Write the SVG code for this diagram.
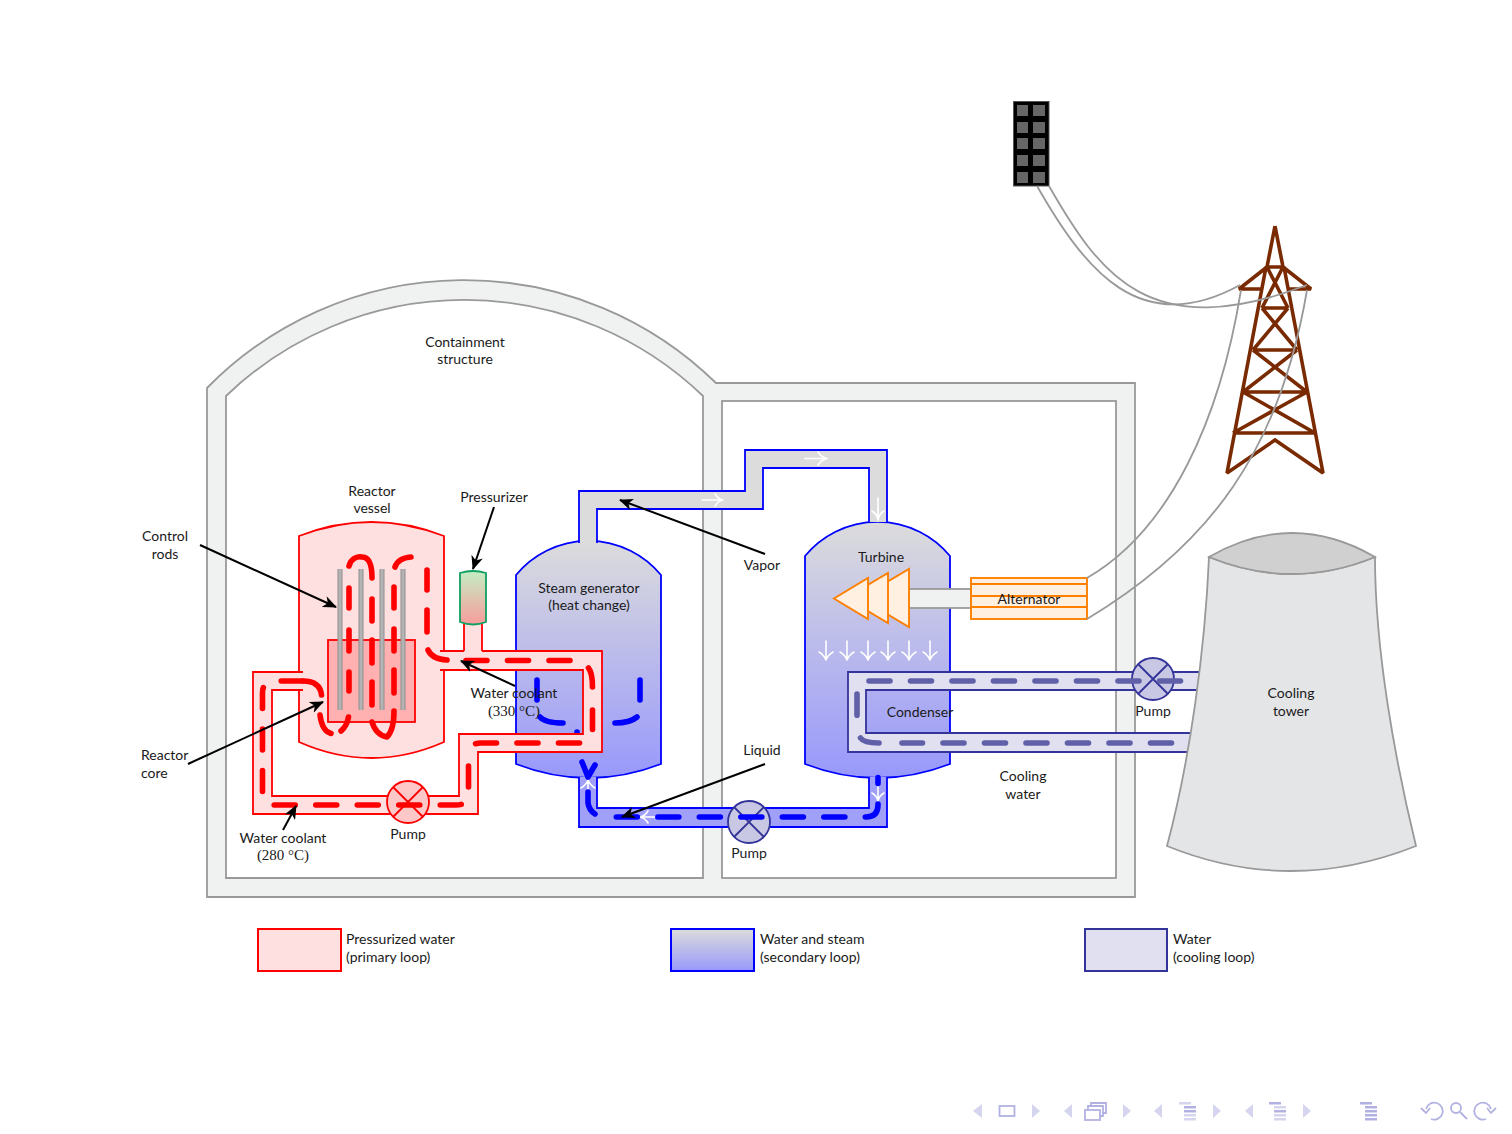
<svg xmlns="http://www.w3.org/2000/svg" width="1512" height="1134" viewBox="0 0 1512 1134">
<style>
text{font-family:"Lato","Open Sans","Liberation Sans",sans-serif;font-size:14px;fill:#1a1a1a;text-anchor:middle}
text.l{text-anchor:start}
text.m{font-family:"Liberation Serif",serif;font-size:15px}
.wall{fill:#f0f2f1;stroke:#999;stroke-width:1.8}
.wire{fill:none;stroke:#999;stroke-width:1.8}
.pf{fill:#ffe0e0;stroke:none}
.ps{fill:none;stroke:#f00;stroke-width:1.8}
.bs{fill:none;stroke:#00f;stroke-width:1.8}
.cf{fill:#e0e0f0;stroke:none}
.cs{fill:none;stroke:#333399;stroke-width:1.8}
.dash{fill:none;stroke-width:5.6;stroke-linecap:round;stroke-linejoin:round;stroke-dasharray:21 20.500}
.seg{fill:none;stroke-width:5.6;stroke-linecap:round;stroke-linejoin:round}
.wa{fill:none;stroke:#fff;stroke-width:1.6;stroke-linecap:round;stroke-linejoin:round}
.rod{fill:url(#rodg)}
.bk{fill:none;stroke:#000;stroke-width:2;marker-end:url(#ah)}
.tw{fill:none;stroke:#7a2a00;stroke-width:3.6;stroke-linejoin:miter;stroke-miterlimit:2.500}
.orange{fill:#fff0e2;stroke:#ff8000;stroke-width:1.9}
.win{fill:#666}
.nt{fill:#d5d5f0}
.nl{fill:none;stroke:#b2b2e2;stroke-width:1.8}
.nb{fill:#b2b2e2}
.nb2{fill:#d5d5f0}
</style>
<defs>
<marker id="ah" viewBox="0 0 14 12" refX="13" refY="6" markerWidth="14" markerHeight="12" markerUnits="userSpaceOnUse" orient="auto">
<path d="M0,0 L14,6 L0,12 L4,6 Z" fill="#000"/>
</marker>
<linearGradient id="sg" x1="0" y1="0" x2="0" y2="1"><stop offset="0" stop-color="#dcdcdc"/><stop offset="1" stop-color="#9898fc"/></linearGradient>
<linearGradient id="pz" x1="0" y1="0" x2="0" y2="1"><stop offset="0" stop-color="#c4eec4"/><stop offset="1" stop-color="#f89c9c"/></linearGradient>
<linearGradient id="rodg" x1="0" y1="0" x2="1" y2="0"><stop offset="0" stop-color="#8e8e8e"/><stop offset="0.5" stop-color="#bdbdbd"/><stop offset="1" stop-color="#8e8e8e"/></linearGradient>
</defs>

<g id="containment">
<path class="wall" d="M207,897 V388 A360,360 0 0 1 716,383 H1135 V897 Z"/>
<path d="M226,878 V396 A344,344 0 0 1 703,396 V878 Z" fill="#fff" stroke="#999" stroke-width="1.8"/>
<rect x="722" y="401" width="394" height="477" fill="#fff" stroke="#999" stroke-width="1.8"/>
</g>

<g id="building">
<rect x="1013.500" y="101.500" width="35.500" height="84.500" fill="#000" stroke="#555" stroke-width="1"/>
<rect class="win" x="1017" y="105" width="11" height="11"/><rect class="win" x="1033" y="105" width="12" height="11"/>
<rect class="win" x="1017" y="122" width="11" height="11"/><rect class="win" x="1033" y="122" width="12" height="11"/>
<rect class="win" x="1017" y="138" width="11" height="11"/><rect class="win" x="1033" y="138" width="12" height="11"/>
<rect class="win" x="1017" y="155" width="11" height="11"/><rect class="win" x="1033" y="155" width="12" height="11"/>
<rect class="win" x="1017" y="172" width="11" height="11"/><rect class="win" x="1033" y="172" width="12" height="11"/>
</g>

<g id="pylon">
<path class="tw" d="M1275,226 L1267,267 M1275,226 L1283,267 M1267,267 H1283 M1267,267 L1239,289 H1262 M1283,267 L1311,289 H1288 M1266,267 L1227,473 L1275,440 L1323,473 L1284,267 M1267,267 L1288,308 M1283,267 L1262,308 M1262,308 H1288 M1262,308 L1297,350 M1288,308 L1253,350 M1253,350 H1297 M1253,350 L1307,392 M1297,350 L1243,392 M1243,392 H1307 M1243,392 L1315,433 M1307,392 L1233,433 M1233,433 H1315"/>
</g>

<g id="steam-generator">
<path d="M516,575 A94,94 0 0 1 661,575 V764 Q588.500,792 516,764 Z" fill="url(#sg)" stroke="#00f" stroke-width="1.8"/>
</g>
<g id="turbine-vessel">
<path d="M805,556 A94,94 0 0 1 950,556 V764 Q877.500,792 805,764 Z" fill="url(#sg)" stroke="#00f" stroke-width="1.8"/>
</g>

<g id="connectors">
<g id="secondary-loop">
<path d="M579,543 V491 H745 V450 H887 V522 H869 V468 H763 V509 H597 V543 Z" fill="#dcdcdc"/>
<path class="bs" d="M579,543 V491 H745 V450 H887 V522 M869,522 V468 H763 V509 H597 V543"/>
<path d="M579,777 V827 H887 V777 H869 V808 H597 V777 Z" fill="#a0a0f8"/>
<path class="bs" d="M579,777 V827 H887 V777 M869,777 V808 H597 V777"/>
<path class="wa" d="M805,458.500 H826 M818,452 Q821,457 827,458.500 Q821,460 818,465 M702,500 H722 M715,494 Q718,499 723,500 Q718,501 715,506 M878,498 V519 M872,511 Q877,514 878,520 Q879,514 884,511 M588,781 V796 M581,788 Q586,785 588,780 Q590,785 595,788 M878,782 V800 M872,793 Q877,796 878,801 Q879,796 884,793 M641,817 H662 M648,811 Q645,816 640,817 Q645,818 648,823"/>
<path class="seg" stroke="#00f" d="M537,680 V700 M540,717 Q545,723 563,723 M577,732 h.1 M640,680 V700 M637,717 Q630,723 615,723 M582,762 L588,777 L595,765 M588,792 V803 Q589,810 595,814"/>
</g>
<g id="cooling-loop">
<path class="cf" d="M1200,672 H848 V752 H1190 V733 H866 V690 H1200 Z"/>
<path class="cs" d="M1200,672 H848 V752 H1190 M1190,733 H866 V690 H1200"/>
</g>
<g id="primary-loop">
<path class="pf" d="M303,672 H253 V814 H478 V752 H602 V651 H440 V670 H583 V734 H459 V796 H272 V690 H303 Z"/>
<path class="ps" d="M303,672 H253 V814 H478 V752 H602 V651 H440 M440,670 H583 V734 H459 V796 H272 V690 H303"/>
</g>
</g>

<g id="reactor-vessel">
<path d="M299,536 Q371.500,508 444,536 V742 Q371.500,774 299,742 Z" fill="#ffe0e0" stroke="#f00" stroke-width="1.8"/>
<path class="pf" d="M296,673 H303 V689 H296 Z M440,652 H448 V669 H440 Z"/>
<path class="ps" d="M296,672 H303 M296,690 H303 M440,651 H448 M440,670 H448"/>
<rect x="328" y="640" width="87" height="82" fill="#ffb0b0" stroke="#f00" stroke-width="1.8"/>
</g>
<g id="control-rods">
<rect class="rod" x="337.500" y="569" width="5" height="141"/>
<rect class="rod" x="358.500" y="569" width="5" height="141"/>
<rect class="rod" x="379.500" y="569" width="5" height="141"/>
<rect class="rod" x="400.500" y="569" width="5" height="141"/>
</g>
<g id="pressurizer">
<rect x="464" y="623" width="18" height="34" class="pf"/>
<path class="ps" d="M464,623 V651 M482,623 V651"/>
<path d="M460,573 Q473,569 486,573 V622 Q473,627 460,622 Z" fill="url(#pz)" stroke="#10a060" stroke-width="1.8"/>
</g>

<g id="pumps">
<g id="pump-primary"><circle cx="408" cy="802" r="21" fill="#ffc8c8" stroke="#f00" stroke-width="1.8"/><path class="ps" d="M393,787 L423,817 M423,787 L393,817"/></g>
<g id="pump-secondary"><circle cx="749" cy="822" r="21" fill="#c8c8e4" stroke="#333399" stroke-width="1.8"/><path class="cs" d="M734,807 L764,837 M764,807 L734,837"/></g>
<g id="pump-cooling"><circle cx="1153" cy="679" r="21" fill="#c8c8e4" stroke="#333399" stroke-width="1.8"/><path class="cs" d="M1138,664 L1168,694 M1168,664 L1138,694"/></g>
</g>

<g id="flows">
<path class="dash" stroke="#f00" d="M466,660.500 H575"/>
<path class="seg" stroke="#f00" d="M588.500,668 Q592.500,673 592.500,687 M592.500,710 V729.500"/>
<path class="dash" stroke="#f00" d="M579.500,743 H481 Q468.500,743 468.500,755"/>
<path class="dash" stroke="#f00" d="M468.500,766 V793 Q468.500,805 456,805 H275 Q262.500,805 262.500,793 V693 Q262.500,681 275,681 H303"/>
<path class="seg" stroke="#f00" d="M303,681 Q320,681 321.500,695 M320,715 Q322,731 331,733.500 M341,731 Q347,726 348.500,717 M349,588 V608 M349,630 V651 M349,672 V691 M349,566 C351,558 358,556 362,557 C369,557 372,566 372,578 M372,599 V621 M372,640 V663 M372,682 V705 M372,722 Q376,735 387,737 Q394,730 394,711 M394,587 V608 M394,629 V651 M394,670 V693 M395,567 Q398,558 411,557 M427,570 V590 M427,610 V632 M428,650 Q432,659 447,660"/>
<path class="dash" stroke="#00f" stroke-dashoffset="15" d="M878,777.500 V805 Q878,817 866,817 H612"/>
<path class="dash" stroke="#6060a8" d="M1180.500,681 H869 Q857,681 857,693 V719"/>
<path class="seg" stroke="#6060a8" d="M860.500,738 Q864,743 879,743"/>
<path class="dash" stroke="#6060a8" d="M1171.500,743 H902"/>
<path class="wa" d="M826,641 V659 M819,652 Q824,655 826,660 Q828,655 833,652 M847,641 V659 M840,652 Q845,655 847,660 Q849,655 854,652 M868,641 V659 M861,652 Q866,655 868,660 Q870,655 875,652 M888,641 V659 M881,652 Q886,655 888,660 Q890,655 895,652 M909,641 V659 M902,652 Q907,655 909,660 Q911,655 916,652 M930,641 V659 M923,652 Q928,655 930,660 Q932,655 937,652"/>
</g>

<g id="turbine">
<rect x="909" y="589" width="62" height="19" fill="#f0f2f1" stroke="#999" stroke-width="1.8"/>
<path class="orange" d="M909,569 V627 L860,598 Z"/>
<path class="orange" d="M888,573 V623 L846,598 Z"/>
<path class="orange" d="M868,578 V619 L834,598.500 Z"/>
</g>
<g id="alternator">
<rect class="orange" x="971" y="578" width="116" height="41"/>
<path d="M971,584 H1087 M971,596 H1087 M971,607 H1087" fill="none" stroke="#ff8000" stroke-width="1.8"/>
</g>

<g id="wires">
<path class="wire" d="M1037,186 C1085,270 1140,340 1240,285"/>
<path class="wire" d="M1049,186 C1100,275 1150,345 1307,285"/>
<path class="wire" d="M1087,578 C1170,530 1220,420 1241,290"/>
<path class="wire" d="M1087,619 C1210,545 1280,450 1307,290"/>
</g>

<g id="cooling-tower">
<path d="M1209,557 C1205,650 1190,760 1167,846 Q1290,896 1416,846 C1395,760 1375,650 1375,557 Q1292,591 1209,557 Z" fill="#e4e5e7" stroke="#999" stroke-width="1.8"/>
<path d="M1209,557 Q1292,509 1375,557 Q1292,591 1209,557 Z" fill="#d0d0d0" stroke="#999" stroke-width="1.8"/>
</g>

<g id="callouts">
<path class="bk" d="M200,545 L336,607"/>
<path class="bk" d="M188,764 L323,702"/>
<path class="bk" d="M494,507 L473,569"/>
<path class="bk" d="M515,686 L461,661"/>
<path class="bk" d="M765,554 L620,500"/>
<path class="bk" d="M765,764 L622,817"/>
<path class="bk" d="M283,830 L296,806"/>
</g>

<g id="labels">
<text x="465" y="347">Containment</text><text x="465" y="364">structure</text>
<text x="372" y="496">Reactor</text><text x="372" y="513">vessel</text>
<text x="494" y="502">Pressurizer</text>
<text x="165" y="541">Control</text><text x="165" y="559">rods</text>
<text class="l" x="141" y="760">Reactor</text><text class="l" x="141" y="778">core</text>
<text x="589" y="593">Steam generator</text><text x="589" y="610">(heat change)</text>
<text x="881" y="562">Turbine</text>
<text x="1029" y="604">Alternator</text>
<text x="920" y="717">Condenser</text>
<text x="762" y="570">Vapor</text>
<text x="762" y="755">Liquid</text>
<text x="514" y="698">Water coolant</text><text class="m" x="514" y="716">(330 °C)</text>
<text x="283" y="843">Water coolant</text><text class="m" x="283" y="860">(280 °C)</text>
<text x="408" y="839">Pump</text><text x="749" y="858">Pump</text><text x="1153" y="716">Pump</text>
<text x="1023" y="781">Cooling</text><text x="1023" y="799">water</text>
<text x="1291" y="698">Cooling</text><text x="1291" y="716">tower</text>
</g>

<g id="legend">
<rect x="258" y="929" width="83" height="42" fill="#ffe0e0" stroke="#f00" stroke-width="2"/>
<text class="l" x="346" y="944">Pressurized water</text><text class="l" x="346" y="962">(primary loop)</text>
<rect x="671" y="929" width="83" height="42" fill="url(#sg)" stroke="#00f" stroke-width="2"/>
<text class="l" x="760" y="944">Water and steam</text><text class="l" x="760" y="962">(secondary loop)</text>
<rect x="1085" y="929" width="82" height="42" fill="#e0e0f0" stroke="#333399" stroke-width="2"/>
<text class="l" x="1173" y="944">Water</text><text class="l" x="1173" y="962">(cooling loop)</text>
</g>

<g id="navigation">
<path class="nt" d="M982,1104 L973,1111 L982,1118 Z M1032,1104 L1040,1111 L1032,1118 Z M1072,1104 L1064,1111 L1072,1118 Z M1123,1104 L1131,1111 L1123,1118 Z M1162,1104 L1154,1111 L1162,1118 Z M1213,1104 L1221,1111 L1213,1118 Z M1253,1104 L1245,1111 L1253,1118 Z M1303,1104 L1311,1111 L1303,1118 Z"/>
<rect class="nl" x="999.500" y="1106" width="15" height="10"/>
<path class="nl" d="M1091,1106 V1103 H1106 V1113 H1102 M1088,1109 V1106 H1103 V1116 H1099"/>
<rect class="nl" x="1085" y="1110" width="15" height="10"/>
<g id="nav-bars">
<rect class="nb2" x="1179" y="1102" width="12" height="2.500"/><rect class="nb" x="1184" y="1106" width="12" height="2.500"/><rect class="nb" x="1184" y="1110" width="12" height="2.500"/><rect class="nb2" x="1184" y="1114" width="12" height="2.500"/><rect class="nb2" x="1184" y="1118" width="12" height="2.500"/>
<rect class="nb" x="1269" y="1102" width="12" height="2.500"/><rect class="nb2" x="1274" y="1106" width="12" height="2.500"/><rect class="nb" x="1274" y="1110" width="12" height="2.500"/><rect class="nb2" x="1274" y="1114" width="12" height="2.500"/><rect class="nb2" x="1274" y="1118" width="12" height="2.500"/>
<rect class="nb" x="1360" y="1102" width="12" height="2.500"/><rect class="nb" x="1365" y="1106" width="12" height="2.500"/><rect class="nb" x="1365" y="1110" width="12" height="2.500"/><rect class="nb" x="1365" y="1114" width="12" height="2.500"/><rect class="nb" x="1365" y="1118" width="12" height="2.500"/>
</g>
<path class="nl" d="M1426,1109 A8.500,8.500 0 1 1 1431,1119 M1421,1108 L1426,1113 L1430,1108"/>
<circle class="nl" cx="1456" cy="1108" r="5"/>
<path class="nl" stroke-width="2.500" d="M1460,1112 L1467,1119"/>
<path class="nl" d="M1491,1109 A8.500,8.500 0 1 0 1486,1119 M1496,1108 L1491,1113 L1487,1108"/>
</g>
</svg>
